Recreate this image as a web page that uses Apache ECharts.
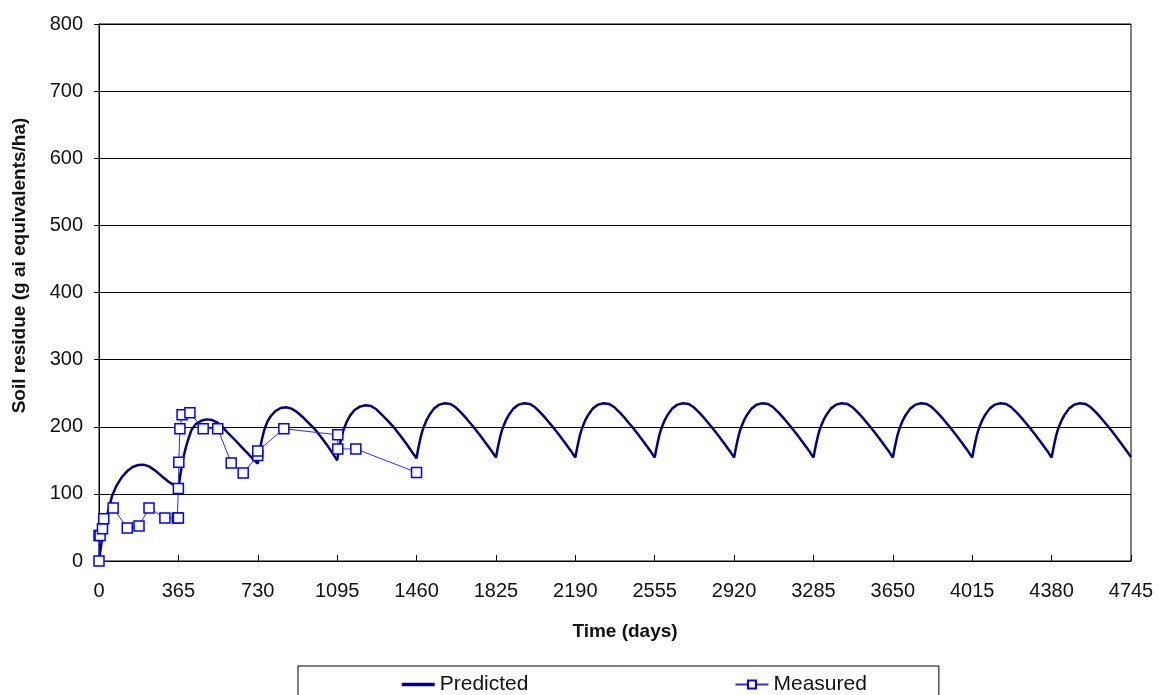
<!DOCTYPE html>
<html>
<head>
<meta charset="utf-8">
<script src="https://cdn.jsdelivr.net/npm/echarts@6/dist/echarts.min.js"></script>
<style>
  html, body { margin: 0; padding: 0; background: #ffffff; }
  #chart { width: 1159px; height: 695px; }
</style>
</head>
<body>
<div id="chart"></div>
<script>
// Days after each yearly application at which the predicted residue is listed
const dayOffsets = [0, 7, 14, 21, 28, 35, 45, 60, 80, 105, 130, 155, 180, 205, 230, 261, 290, 320, 345];

// Predicted soil residue (g ai equivalents/ha), one row per application year
const predictedByYear = [
  [0, 17, 33, 45, 56, 65, 78, 97, 112, 125, 134, 140, 143, 143.5, 141, 134, 126, 118, 113],
  [108, 124, 139, 151, 161, 170, 181, 195, 204, 209, 211, 210, 206, 199, 190, 180, 170, 160, 151],
  [145, 160, 173, 184, 193, 200, 208, 216, 223, 228, 229, 227, 222, 215, 207, 197, 185, 172, 160],
  [150, 164, 176, 186, 194, 200, 208, 217, 225, 230, 232, 231, 226, 218, 210, 199, 187, 174, 162],
  [153, 166, 177, 187, 195, 201, 209, 218, 227, 233, 235, 234, 229, 221, 212, 200, 188, 175, 164],
  [154, 166, 177, 187, 195, 201, 209, 218, 227, 233, 235, 234, 229, 221, 212, 200, 188, 175, 164],
  [154, 166, 177, 187, 195, 201, 209, 218, 227, 233, 235, 234, 229, 221, 212, 200, 188, 175, 164],
  [154, 166, 177, 187, 195, 201, 209, 218, 227, 233, 235, 234, 229, 221, 212, 200, 188, 175, 164],
  [154, 166, 177, 187, 195, 201, 209, 218, 227, 233, 235, 234, 229, 221, 212, 200, 188, 175, 164],
  [154, 166, 177, 187, 195, 201, 209, 218, 227, 233, 235, 234, 229, 221, 212, 200, 188, 175, 164],
  [154, 166, 177, 187, 195, 201, 209, 218, 227, 233, 235, 234, 229, 221, 212, 200, 188, 175, 164],
  [154, 166, 177, 187, 195, 201, 209, 218, 227, 233, 235, 234, 229, 221, 212, 200, 188, 175, 164],
  [154, 166, 177, 187, 195, 201, 209, 218, 227, 233, 235, 234, 229, 221, 212, 200, 188, 175, 164]
];
const predictedEndDay = 4745;
const predictedEndValue = 155;

// Measured soil residue samples
const measuredDays    = [0, 0, 5, 16, 22, 65, 130, 184, 230, 303, 360, 365, 365, 367, 372, 382, 418, 479, 546, 608, 663, 730, 730, 850, 1098, 1098, 1181, 1460];
const measuredResidue = [0, 38, 38, 48, 63, 79, 49, 52, 79, 64, 64, 64, 108, 147, 197, 218, 221, 197, 197, 146, 131, 157, 164, 197, 188, 167, 167, 132];

const daysPerYear = 365;

const predicted = [];
predictedByYear.forEach(function (row, year) {
  row.forEach(function (v, i) {
    predicted.push([year * daysPerYear + dayOffsets[i], v]);
  });
});
predicted.push([predictedEndDay, predictedEndValue]);

const measured = measuredDays.map(function (d, i) { return [d, measuredResidue[i]]; });

const FONT = "'Liberation Sans', Arial, sans-serif";
const plain = function (v) { return String(v); };

const chart = echarts.init(document.getElementById('chart'), null, { renderer: 'canvas' });
chart.setOption({
  animation: false,
  backgroundColor: '#ffffff',
  grid: {
    left: 99, right: 28, top: 24, bottom: 134,
    show: true, borderColor: '#000000', borderWidth: 1
  },
  legend: {
    left: 298, top: 666,
    padding: [8, 72, 8, 102],
    itemGap: 206,
    itemWidth: 33, itemHeight: 10,
    borderColor: '#000000', borderWidth: 1,
    textStyle: { fontFamily: FONT, fontSize: 21, color: '#111111' },
    data: [
      { name: 'Predicted', itemStyle: { opacity: 0 }, lineStyle: { width: 3.5 } },
      { name: 'Measured' }
    ]
  },
  xAxis: {
    type: 'value',
    min: 0, max: 4745, interval: 365,
    name: 'Time (days)',
    nameLocation: 'middle',
    nameGap: 61,
    nameTextStyle: { fontFamily: FONT, fontSize: 19, fontWeight: 'bold', color: '#111111', padding: [0, 0, 0, 20] },
    axisLine: { show: true, lineStyle: { color: '#000000', width: 1 } },
    axisTick: { show: true, inside: true, length: 6, lineStyle: { color: '#000000' } },
    axisLabel: { fontFamily: FONT, fontSize: 20, color: '#111111', margin: 20, formatter: plain },
    splitLine: { show: false }
  },
  yAxis: {
    type: 'value',
    min: 0, max: 800, interval: 100,
    name: 'Soil residue (g ai equivalents/ha)',
    nameLocation: 'middle',
    nameGap: 70,
    nameTextStyle: { fontFamily: FONT, fontSize: 19, fontWeight: 'bold', color: '#111111', padding: [0, 0, 0, 54] },
    axisLine: { show: true, lineStyle: { color: '#000000', width: 1 } },
    axisTick: { show: true, inside: false, length: 5, lineStyle: { color: '#000000' } },
    axisLabel: { fontFamily: FONT, fontSize: 20, color: '#111111', margin: 16, formatter: plain },
    splitLine: { show: true, lineStyle: { color: '#000000', width: 1 } }
  },
  series: [
    {
      name: 'Predicted',
      type: 'line',
      data: predicted,
      symbol: 'none',
      smooth: false,
      color: '#000080',
      lineStyle: { color: '#000080', width: 2.5 },
      z: 2
    },
    {
      name: 'Measured',
      type: 'line',
      data: measured,
      symbol: 'rect',
      symbolSize: 10,
      color: '#0000ff',
      itemStyle: { color: '#ffffff', borderColor: '#0000ff', borderWidth: 1.5 },
      lineStyle: { color: '#2a2aff', width: 1 },
      z: 3
    }
  ]
});
</script>
</body>
</html>
